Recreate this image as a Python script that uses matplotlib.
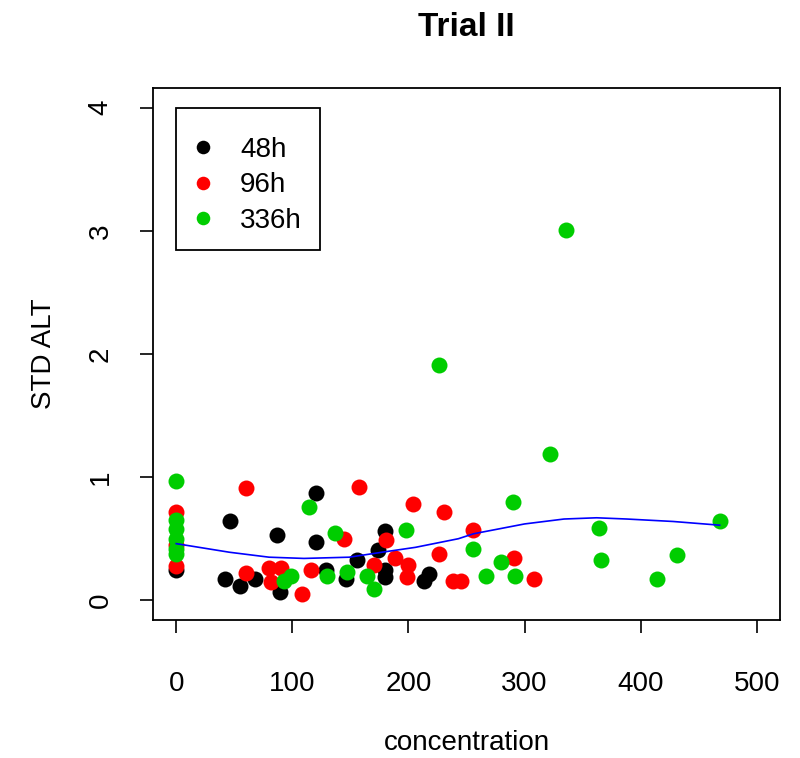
import matplotlib
matplotlib.use("Agg")
import matplotlib.pyplot as plt
from matplotlib.patches import Rectangle

plt.rcParams['font.family'] = ['Liberation Sans', 'DejaVu Sans']

# ---- data ----
x_48h = [0, 42, 46, 55, 68, 87, 89, 120.5, 120.5, 129, 146, 156, 174, 180, 180, 180, 213, 218]
y_48h = [0.25, 0.17, 0.64, 0.12, 0.17, 0.53, 0.065, 0.875, 0.47, 0.25, 0.17, 0.33, 0.41, 0.56, 0.25, 0.19, 0.16, 0.21]

x_96h = [0, 0, 0, 60, 60, 80, 82, 90, 108, 116, 144.5, 157, 170, 181, 188, 199, 200, 204, 226, 231, 238, 245, 256, 291, 308]
y_96h = [0.72, 0.45, 0.28, 0.91, 0.22, 0.26, 0.15, 0.26, 0.05, 0.25, 0.50, 0.92, 0.29, 0.49, 0.34, 0.19, 0.29, 0.78, 0.38, 0.72, 0.16, 0.16, 0.57, 0.34, 0.17]

x_336h = [0, 0, 0, 0, 0, 0, 93, 99, 114.5, 130, 137, 147, 164, 170, 198, 226, 256, 267, 280, 290, 292, 322, 336, 364, 366, 414, 431, 468]
y_336h = [0.97, 0.65, 0.58, 0.50, 0.42, 0.38, 0.16, 0.20, 0.76, 0.20, 0.55, 0.23, 0.20, 0.09, 0.57, 1.91, 0.42, 0.20, 0.31, 0.80, 0.20, 1.19, 3.01, 0.59, 0.33, 0.17, 0.37, 0.64]

smooth_x = [0, 46, 80, 110, 149, 177, 206, 243, 256, 300, 334, 362, 388, 428, 468]
smooth_y = [0.46, 0.39, 0.35, 0.34, 0.35, 0.39, 0.43, 0.50, 0.54, 0.62, 0.66, 0.67, 0.66, 0.64, 0.61]

series_labels = ['48h', '96h', '336h']
series_colors = ['black', '#FF0000', '#00CD00']
x_ticks = [0, 100, 200, 300, 400, 500]
y_ticks = [0, 1, 2, 3, 4]

# ---- figure ----
fig = plt.figure(figsize=(8, 7.58), dpi=100)
ax = fig.add_axes([153/800, 1-620/758, 627/800, 532/758])

for xs, ys, lab, col in zip([x_48h, x_96h, x_336h], [y_48h, y_96h, y_336h], series_labels, series_colors):
    ax.plot(xs, ys, linestyle='none', marker='o', markersize=11.5, color=col,
            markeredgewidth=0, label=lab)

ax.plot(smooth_x, smooth_y, color='#0000FF', linewidth=1.2)

ax.set_xlim(-20, 520)
ax.set_ylim(-0.16, 4.16)
ax.set_xticks(x_ticks)
ax.set_yticks(y_ticks)
ax.set_xticklabels([str(v) for v in x_ticks], fontsize=20)
ax.set_yticklabels([str(v) for v in y_ticks], fontsize=20, rotation=90, va='center')
ax.tick_params(axis='both', direction='out', length=9.5, width=1.2, colors='black')
ax.tick_params(axis='x', pad=27)
ax.tick_params(axis='y', pad=19)
for sp in ax.spines.values():
    sp.set_linewidth(1.3)
    sp.set_color('black')

ax.set_xlabel('concentration', fontsize=20, labelpad=24)
ax.set_ylabel('STD ALT', fontsize=20, labelpad=22)

fig.text(466/800, 1-27/758, 'Trial II', ha='center', va='center', fontsize=24, fontweight='bold')

# legend entries (no frame) plus a separate frame box like R's legend
leg = ax.legend(loc='center left', bbox_to_anchor=(0.066, 0.817), borderaxespad=0,
                borderpad=0, fontsize=20, frameon=False, markerscale=0.85,
                handlelength=0.6, handletextpad=1.05, labelspacing=0.33)
ax.add_patch(Rectangle((0.0367, 0.6955), 0.2296, 0.2669, transform=ax.transAxes,
                       fill=False, edgecolor='black', linewidth=1.3, zorder=5))

fig.savefig('out.png', dpi=100)
